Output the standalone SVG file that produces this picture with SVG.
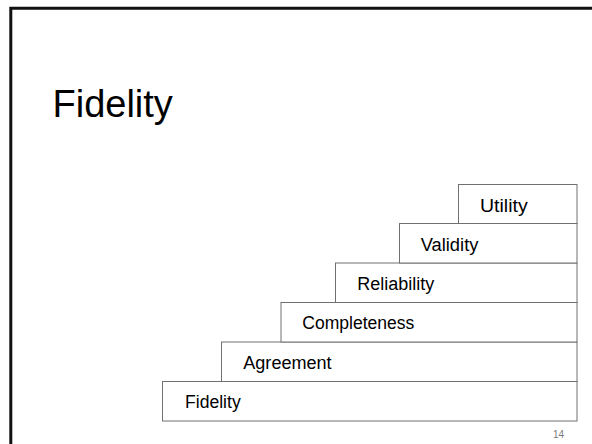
<svg xmlns="http://www.w3.org/2000/svg" width="592" height="444" viewBox="0 0 592 444">
<style>
.step{fill:#ffffff;stroke:#707070;stroke-width:1}
.lbl{font-family:"Liberation Sans",Arial,sans-serif;font-size:18px;fill:#000}
.title{font-family:"Liberation Sans",Arial,sans-serif;font-size:38px;fill:#000}
.num{font-family:"Liberation Sans",Arial,sans-serif;font-size:10px;fill:#7a7a7a}
</style>
<rect width="592" height="444" fill="#ffffff"/>
<path d="M10.8 444 V8.2 H592" fill="none" stroke="#111" stroke-width="3"/>
<text class="title" x="52.5" y="117.3">Fidelity</text>
<g id="fidelity"><rect class="step" x="162.5" y="381.5" width="414.5" height="39.5"/><text class="lbl" x="185" y="408.3" textLength="55.7" lengthAdjust="spacingAndGlyphs">Fidelity</text></g>
<g id="agreement"><rect class="step" x="221.5" y="342" width="355.5" height="39.5"/><text class="lbl" x="243.3" y="369" textLength="88.3" lengthAdjust="spacingAndGlyphs">Agreement</text></g>
<g id="completeness"><rect class="step" x="281" y="302.5" width="296" height="39.5"/><text class="lbl" x="302.3" y="329.3" textLength="112" lengthAdjust="spacingAndGlyphs">Completeness</text></g>
<g id="reliability"><rect class="step" x="335.5" y="263" width="241.5" height="39.5"/><text class="lbl" x="357.3" y="290" textLength="77" lengthAdjust="spacingAndGlyphs">Reliability</text></g>
<g id="validity"><rect class="step" x="399.5" y="223.5" width="177.5" height="39.5"/><text class="lbl" x="420.7" y="251" textLength="57.7" lengthAdjust="spacingAndGlyphs">Validity</text></g>
<g id="utility"><rect class="step" x="458.5" y="184.5" width="118.5" height="39"/><text class="lbl" x="480" y="211.7" textLength="47.7" lengthAdjust="spacingAndGlyphs">Utility</text></g>
<text class="num" x="553" y="438">14</text>
</svg>
